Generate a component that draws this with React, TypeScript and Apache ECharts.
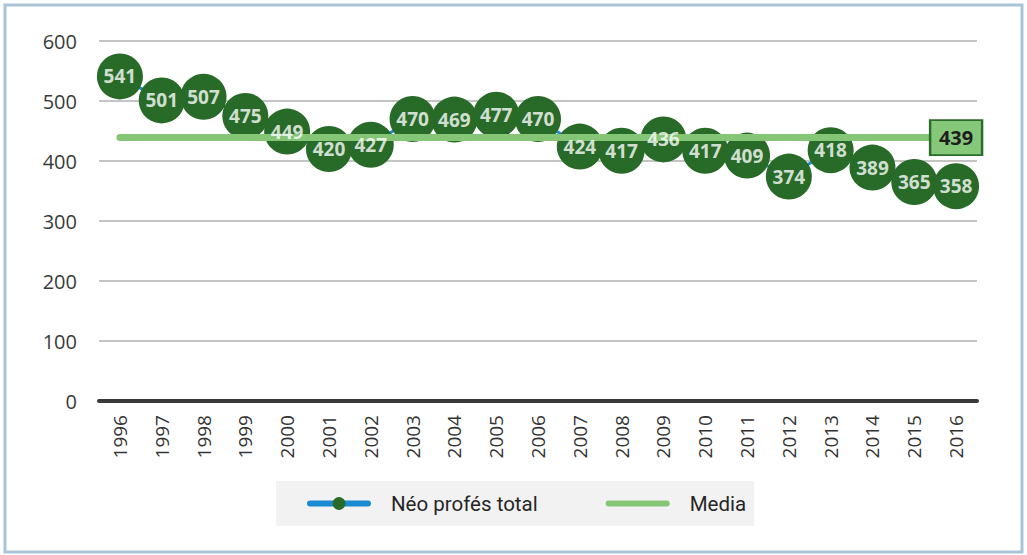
import React, { useEffect, useRef } from "react";
import * as echarts from "echarts";

const years = ["1996","1997","1998","1999","2000","2001","2002","2003","2004","2005","2006","2007","2008","2009","2010","2011","2012","2013","2014","2015","2016"];
const neoProfes = [541,501,507,475,449,420,427,470,469,477,470,424,417,436,417,409,374,418,389,365,358];
const mediaValue = 439;
const yTicks = { min: 0, max: 600, interval: 100 };

export default function App() {
  const ref = useRef<HTMLDivElement>(null);
  useEffect(() => {
    document.body.style.margin = "0";
    const chart = echarts.init(ref.current!, null, { renderer: "svg" });
    const mediaData = years.map(() => mediaValue);
    chart.setOption({
      animation: false,
      backgroundColor: "#ffffff",
      graphic: [
        {
          type: "rect",
          shape: { x: 5, y: 5, width: 1017, height: 547 },
          style: { fill: "none", stroke: "#a8c5d8", lineWidth: 3 },
          silent: true,
        },
      ],
      grid: { left: 99, right: 50, top: 41, bottom: 154 },
      xAxis: {
        type: "category",
        data: years,
        boundaryGap: true,
        axisLine: { lineStyle: { color: "#3a3a3a", width: 4 } },
        axisTick: { show: false },
        axisLabel: {
          rotate: 90,
          fontSize: 19,
          color: "#333333",
          fontFamily: "Open Sans",
          margin: 14,
        },
      },
      yAxis: {
        type: "value",
        min: yTicks.min,
        max: yTicks.max,
        interval: yTicks.interval,
        axisLine: { show: false },
        axisTick: { show: false },
        axisLabel: { fontSize: 20, color: "#3a3a3a", fontFamily: "Open Sans", margin: 22 },
        splitLine: { lineStyle: { color: "#c4c4c4", width: 2 } },
      },
      legend: {
        left: 276,
        top: 481,
        backgroundColor: "#f2f2f2",
        padding: [12, 8, 12, 31],
        itemGap: 68,
        itemWidth: 58,
        itemHeight: 16,
        textStyle: {
          fontSize: 20.5,
          color: "#262626",
          fontFamily: "Roboto",
          padding: [0, 0, 0, 18],
        },
        data: [
          { name: "Néo profés total", lineStyle: { width: 6, cap: "round" } },
          { name: "Media", lineStyle: { width: 6, cap: "round" }, itemStyle: { opacity: 0 } },
        ],
      },
      series: [
        {
          name: "Néo profés total",
          type: "line",
          data: neoProfes,
          symbol: "circle",
          symbolSize: 46,
          lineStyle: { color: "#1a8ad2", width: 3 },
          itemStyle: { color: "#286b28" },
          label: { show: false },
          z: 2,
        },
        {
          name: "Media",
          type: "line",
          data: mediaData,
          symbol: "none",
          lineStyle: { color: "#85c576", width: 7, cap: "round" },
          itemStyle: { color: "#85c576" },
          z: 3,
          markPoint: {
            symbol: "rect",
            symbolSize: [52, 35],
            itemStyle: { color: "#86c87a", borderColor: "#2b6b2b", borderWidth: 2 },
            label: {
              show: true,
              position: "inside",
              color: "#1e1e1e",
              fontWeight: "bold",
              fontSize: 20,
              fontFamily: "Open Sans",
              textBorderWidth: 0,
              formatter: "{c}",
            },
            data: [{ coord: [years[years.length - 1], mediaValue], value: mediaValue }],
          },
        },
        {
          name: "labels",
          type: "scatter",
          data: neoProfes,
          symbol: "circle",
          symbolSize: 46,
          itemStyle: { color: "rgba(0,0,0,0)" },
          silent: true,
          z: 4,
          label: {
            show: true,
            position: "inside",
            color: "#ffffff",
            fontWeight: "bold",
            fontSize: 19,
            fontFamily: "Open Sans",
            textBorderWidth: 0,
          },
        },
      ],
    });
    return () => chart.dispose();
  }, []);
  return <div ref={ref} style={{ width: 1027, height: 555 }} />;
}
